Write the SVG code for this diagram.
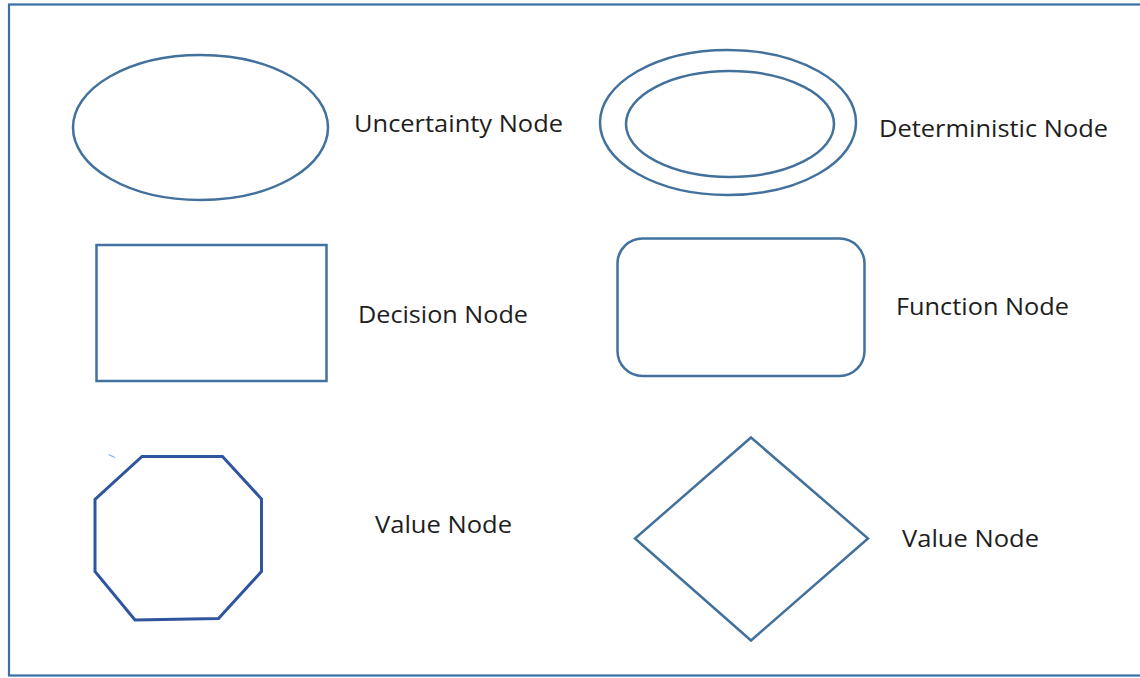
<svg xmlns="http://www.w3.org/2000/svg" width="1140" height="678" viewBox="0 0 1140 678">
  <style>
    .shape { fill: #ffffff; stroke: #41719c; stroke-width: 2.5; }
    .oct { fill: #ffffff; stroke: #2f559f; stroke-width: 3; stroke-linejoin: miter; }
    .label { font-family: "Open Sans", "Noto Sans", sans-serif; font-size: 24.5px; fill: #1e1e1e; }
  </style>
  <rect width="1140" height="678" fill="#ffffff"/>
  <!-- outer frame (runs off the right edge) -->
  <rect x="9" y="4.5" width="1145" height="671" fill="none" stroke="#3a6fa6" stroke-width="2.2"/>

  <g id="uncertainty-node">
    <ellipse class="shape" cx="200.5" cy="127.5" rx="127.5" ry="72.5"/>
    <text class="label" x="354" y="132" textLength="209" lengthAdjust="spacingAndGlyphs">Uncertainty Node</text>
  </g>

  <g id="deterministic-node">
    <ellipse class="shape" cx="728" cy="122.5" rx="128" ry="72.5"/>
    <ellipse class="shape" cx="730" cy="124" rx="104" ry="53"/>
    <text class="label" x="879" y="137" textLength="229" lengthAdjust="spacingAndGlyphs">Deterministic Node</text>
  </g>

  <g id="decision-node">
    <rect class="shape" x="96.5" y="245" width="230" height="136" stroke-width="3"/>
    <text class="label" x="358" y="323" textLength="170" lengthAdjust="spacingAndGlyphs">Decision Node</text>
  </g>

  <g id="function-node">
    <rect class="shape" x="617.5" y="238.5" width="247" height="137.5" rx="25" ry="25"/>
    <text class="label" x="896" y="315" textLength="173" lengthAdjust="spacingAndGlyphs">Function Node</text>
  </g>

  <g id="value-node-octagon">
    <polygon class="oct" points="142,456.5 222.5,456.5 261.5,499 261.5,571.5 218.5,618.5 135,620 95,571.5 95,499.5"/>
    <line x1="108.5" y1="454.5" x2="115" y2="457.5" stroke="#5b8fd0" stroke-width="1.2" opacity="0.7"/>
    <text class="label" x="375" y="533" textLength="137" lengthAdjust="spacingAndGlyphs">Value Node</text>
  </g>

  <g id="value-node-diamond">
    <polygon class="shape" points="751,437.5 868,538.5 751,640.5 635,538.5"/>
    <text class="label" x="902" y="547" textLength="137" lengthAdjust="spacingAndGlyphs">Value Node</text>
  </g>

  <g id="connectors"></g>
</svg>
